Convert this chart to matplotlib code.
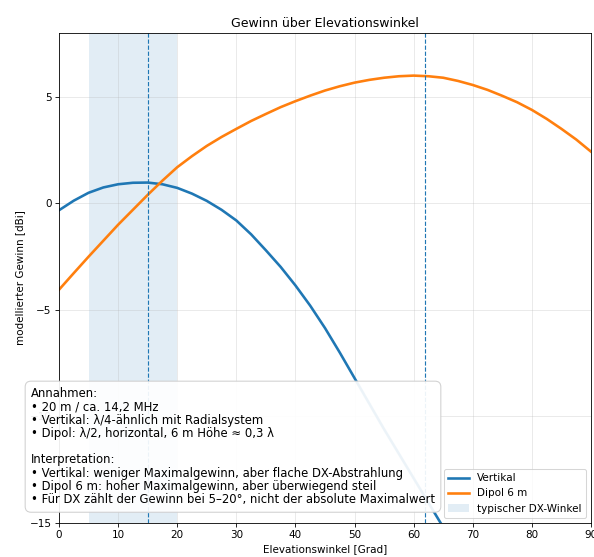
import matplotlib
matplotlib.use("Agg")
import matplotlib.pyplot as plt

# Elevation angles [deg]
angles = [0, 2.5, 5, 7.5, 10, 12.5, 15, 17.5, 20, 22.5, 25, 27.5, 30, 32.5, 35, 37.5,
          40, 42.5, 45, 47.5, 50, 52.5, 55, 57.5, 60, 62.5, 65, 67.5, 70, 72.5,
          75, 77.5, 80, 82.5, 85, 87.5, 90]
# Vertical antenna gain [dBi] (values beyond the plot range are clipped)
vertical = [-0.32, 0.13, 0.5, 0.75, 0.9, 0.97, 0.98, 0.9, 0.73, 0.46, 0.12, -0.3,
            -0.8, -1.45, -2.2, -2.98, -3.85, -4.8, -5.85, -7.0, -8.2, -9.4,
            -10.6, -11.75, -12.9, -14.05, -15.2, -16.35, -17.5, -18.65,
            -19.8, -20.95, -22.1, -23.25, -24.4, -25.55, -26.7]
# Dipole 6 m gain [dBi]
dipole = [-4.05, -3.27, -2.5, -1.75, -1.0, -0.3, 0.4, 1.07, 1.7, 2.22, 2.7, 3.12,
          3.5, 3.87, 4.2, 4.52, 4.8, 5.06, 5.3, 5.5, 5.67, 5.8, 5.9, 5.97, 6.0,
          5.97, 5.9, 5.75, 5.56, 5.33, 5.05, 4.75, 4.39, 3.97, 3.5, 3.0, 2.43]

dx_band = (5, 20)
marker_lines = [15, 62]

xticks = [0, 10, 20, 30, 40, 50, 60, 70, 80, 90]
yticks = [-15, -10, -5, 0, 5]

info_text = ("Annahmen:\n"
             "• 20 m / ca. 14,2 MHz\n"
             "• Vertikal: λ/4-ähnlich mit Radialsystem\n"
             "• Dipol: λ/2, horizontal, 6 m Höhe ≈ 0,3 λ\n"
             "\n"
             "Interpretation:\n"
             "• Vertikal: weniger Maximalgewinn, aber flache DX-Abstrahlung\n"
             "• Dipol 6 m: hoher Maximalgewinn, aber überwiegend steil\n"
             "• Für DX zählt der Gewinn bei 5–20°, nicht der absolute Maximalwert")

W, H = 594, 557
dpi = 75
fig = plt.figure(figsize=(W / dpi, H / dpi), dpi=dpi)
ax = fig.add_axes([59 / W, 1 - 523 / H, (591 - 59) / W, (523 - 33) / H])

ax.axvspan(dx_band[0], dx_band[1], color="C0", alpha=0.13, lw=0, label="typischer DX-Winkel")
ax.plot(angles, vertical, color="C0", lw=2.5, label="Vertikal")
ax.plot(angles, dipole, color="C1", lw=2.5, label="Dipol 6 m")
for xv in marker_lines:
    ax.axvline(xv, color="C0", ls="--", lw=1.1)

ax.set_xlim(0, 90)
ax.set_ylim(-15, 8)
ax.set_xticks(xticks)
ax.set_yticks(yticks)
ax.grid(True, alpha=0.3)
ax.set_title("Gewinn über Elevationswinkel", fontsize=12)
ax.set_xlabel("Elevationswinkel [Grad]")
ax.set_ylabel("modellierter Gewinn [dBi]")

handles, labels = ax.get_legend_handles_labels()
order = [1, 2, 0]
ax.legend([handles[i] for i in order], [labels[i] for i in order], loc="lower right")

fig.text(31 / W, 1 - 387 / H, info_text, ha="left", va="top", fontsize=11.2,
         linespacing=1.03,
         bbox=dict(boxstyle="round,pad=0.5", facecolor="white", edgecolor="0.8", alpha=0.92),
         zorder=10)

fig.savefig("out.png", dpi=dpi)
